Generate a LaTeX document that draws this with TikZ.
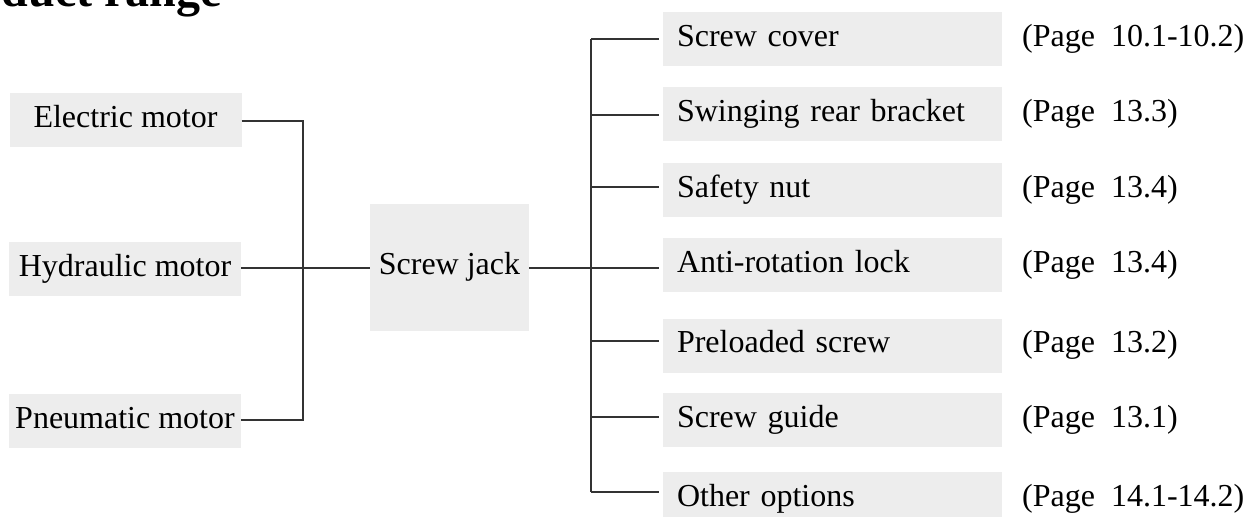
\documentclass[tikz,border=0pt]{standalone}
\usepackage{fontspec}
\setmainfont{Liberation Serif}
\begin{document}
\begin{tikzpicture}[x=1pt,y=-1pt,
  every node/.style={font=\fontsize{32}{38}\selectfont, inner sep=0pt,
    text height=21pt, text depth=7pt},
  graybox/.style={fill=boxgray, minimum height=54pt},
  srcbox/.style={graybox, minimum width=232pt, align=center},
  optbox/.style={graybox, minimum width=339pt, text width=311pt, align=left},
  pageref/.style={anchor=west},
  wire/.style={line width=1.3pt, draw=wiregray},
  branch/.style={wire, shorten >=4pt},
]
\definecolor{boxgray}{HTML}{EDEDED}
\definecolor{wiregray}{HTML}{333333}
\useasboundingbox (0,0) rectangle (1254,517);
\begin{scope}
\clip (0,0) rectangle (1254,517);

% heading (runs off the top edge)
\node[anchor=base east, font=\fontsize{48}{56}\selectfont\bfseries, text height=, text depth=] (title) at (222,6) {duct range};

% drive options
\node[srcbox] (em) at (125.5,120) {Electric motor};
\node[srcbox] (hm) at (125,269) {Hydraulic motor};
\node[srcbox] (pm) at (125,421) {Pneumatic motor};
\coordinate (jl) at (303,268);

% central unit
\node[graybox, minimum width=159pt, minimum height=127pt] (sj) at (449.5,267.5) {Screw jack};
\coordinate (jr) at (591,268);

% options
\node[optbox] (o1) at (832.5,39) {Screw cover};
\node[optbox] (o2) at (832.5,114) {Swinging rear bracket};
\node[optbox] (o3) at (832.5,190) {Safety nut};
\node[optbox] (o4) at (832.5,265) {Anti-rotation lock};
\node[optbox] (o5) at (832.5,345.5) {Preloaded screw};
\node[optbox] (o6) at (832.5,420) {Screw guide};
\node[optbox] (o7) at (832.5,499) {Other options};

% page references
\node[pageref] (p1) at (1022,39) {(Page~~10.1-10.2)};
\node[pageref] (p2) at (1022,114) {(Page~~13.3)};
\node[pageref] (p3) at (1022,190) {(Page~~13.4)};
\node[pageref] (p4) at (1022,265) {(Page~~13.4)};
\node[pageref] (p5) at (1022,345.5) {(Page~~13.2)};
\node[pageref] (p6) at (1022,420) {(Page~~13.1)};
\node[pageref] (p7) at (1022,499) {(Page~~14.1-14.2)};

% drives to the screw jack
\draw[wire] ([yshift=-1pt]em.east) -| (jl) |- ([yshift=1pt]pm.east);
\draw[wire] ([yshift=1pt]hm.east) -- ([yshift=1pt]hm.east -| sj.west);

% screw jack to the options
\draw[wire] (sj.east |- jr) -- (jr);
\coordinate (top) at ([yshift=0pt]jr |- o1.west);
\coordinate (bot) at ([yshift=7pt]jr |- o7.west);
\draw[wire] (top) -- (bot);
\draw[branch] (top) -- (o1.west);
\draw[branch] ([yshift=-1pt]jr |- o2.west) -- ([yshift=-1pt]o2.west);
\draw[branch] ([yshift=3pt]jr |- o3.west) -- ([yshift=3pt]o3.west);
\draw[branch] ([yshift=-3pt]jr |- o4.west) -- ([yshift=-3pt]o4.west);
\draw[branch] ([yshift=4.5pt]jr |- o5.west) -- ([yshift=4.5pt]o5.west);
\draw[branch] ([yshift=3pt]jr |- o6.west) -- ([yshift=3pt]o6.west);
\draw[branch] (bot) -- ([yshift=7pt]o7.west);
\end{scope}
\end{tikzpicture}
\end{document}
